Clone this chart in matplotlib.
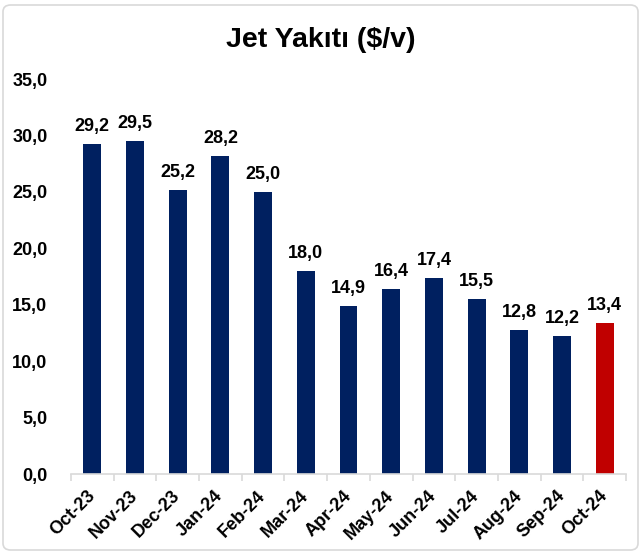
import matplotlib
matplotlib.use("Agg")
import matplotlib.pyplot as plt
from matplotlib.patches import FancyBboxPatch
from matplotlib.ticker import FuncFormatter

categories = ["Oct-23", "Nov-23", "Dec-23", "Jan-24", "Feb-24", "Mar-24", "Apr-24",
              "May-24", "Jun-24", "Jul-24", "Aug-24", "Sep-24", "Oct-24"]
values = [29.2, 29.5, 25.2, 28.2, 25.0, 18.0, 14.9, 16.4, 17.4, 15.5, 12.8, 12.2, 13.4]
yticks = [0, 5, 10, 15, 20, 25, 30, 35]

plt.rcParams['font.family'] = ['Liberation Sans', 'DejaVu Sans']
plt.rcParams['font.weight'] = 'bold'

W, H = 642, 554
fig = plt.figure(figsize=(W / 100, H / 100), dpi=100)
fig.patch.set_facecolor('white')

# rounded frame
frame = FancyBboxPatch((3 / W, 4 / H), (W - 7) / W, (H - 9) / H,
                       boxstyle="round,pad=0,rounding_size=0.012",
                       transform=fig.transFigure, facecolor='none',
                       edgecolor='#d9d9d9', linewidth=1.2)
fig.patches.append(frame)

ax = fig.add_axes([71 / W, (H - 474) / H, (626 - 71) / W, (474 - 79) / H])
colors = ['#002060'] * (len(values) - 1) + ['#c00000']
x = list(range(len(values)))
ax.bar(x, values, width=0.42, color=colors, zorder=2)

ax.set_xlim(-0.5, len(values) - 0.5)
ax.set_ylim(0, 35)
ax.set_yticks(yticks)
ax.yaxis.set_major_formatter(FuncFormatter(lambda v, p: f"{v:.1f}".replace('.', ',')))
ax.tick_params(axis='y', length=0, pad=17, labelsize=13)

ax.set_xticks(x)
ax.set_xticklabels(categories, rotation=45, ha='right', va='center',
                   rotation_mode='anchor', fontsize=13, fontweight='bold')
ax.tick_params(axis='x', length=0, pad=14)
# minor ticks between categories
ax.set_xticks([i - 0.5 for i in range(len(values) + 1)], minor=True)
ax.tick_params(axis='x', which='minor', length=5, color='#d9d9d9', width=1.2)

for s in ['top', 'right', 'left']:
    ax.spines[s].set_visible(False)
ax.spines['bottom'].set_color('#d9d9d9')
ax.spines['bottom'].set_linewidth(1.2)

for xi, v in zip(x, values):
    ax.annotate(f"{v:.1f}".replace('.', ','), (xi, v), xytext=(0, 6.5),
                textcoords='offset points', ha='center', va='bottom',
                fontsize=13, fontweight='bold')

fig.text(0.5, (H - 40) / H, "Jet Yakıtı ($/v)", ha='center', va='center',
         fontsize=20.5, fontweight='bold')

fig.savefig("out.png", dpi=100, facecolor='white')
